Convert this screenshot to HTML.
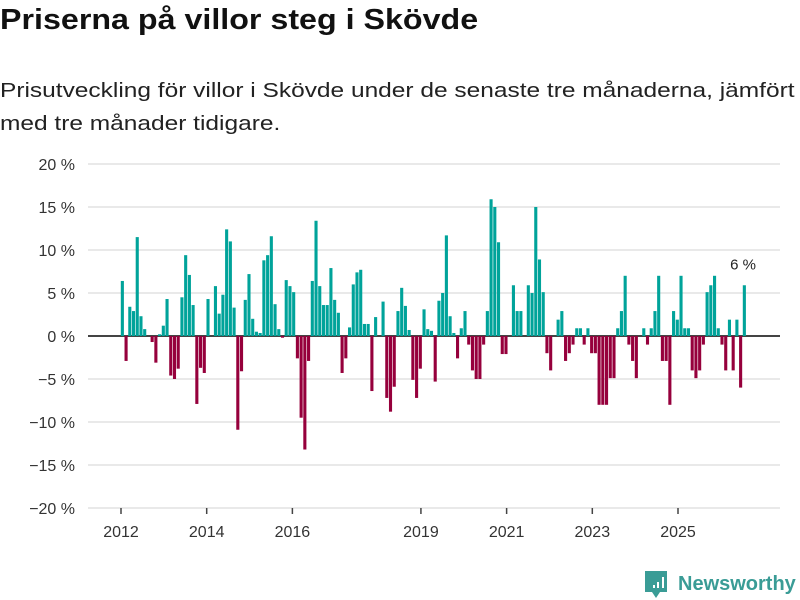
<!DOCTYPE html>
<html><head><meta charset="utf-8"><style>
body{margin:0;background:#fff;font-family:"Liberation Sans","DejaVu Sans",sans-serif;}
#wrap{position:relative;width:800px;height:600px;overflow:hidden;}
h1{position:absolute;left:0;top:4px;margin:0;font-size:29px;font-weight:bold;color:#111;transform:scaleX(1.111);transform-origin:0 0;white-space:nowrap;}
p{position:absolute;left:0;top:74px;margin:0;font-size:20.5px;line-height:33px;color:#222;width:668px;transform:scaleX(1.194);transform-origin:0 0;}
</style></head><body>
<div id="wrap">
<h1>Priserna på villor steg i Skövde</h1>
<p>Prisutveckling för villor i Skövde under de senaste tre månaderna, jämfört med tre månader tidigare.</p>
<svg id="chart" width="800" height="600" style="position:absolute;left:0;top:0"></svg>
</div>
<script>
const values = [6.4,-2.9,3.4,2.9,11.5,2.3,0.8,0,-0.7,-3.1,0.2,1.2,4.3,-4.6,-5.0,-3.8,4.5,9.4,7.1,3.6,-7.9,-3.7,-4.3,4.3,0,5.8,2.6,4.8,12.4,11.0,3.3,-10.9,-4.1,4.2,7.2,2.0,0.5,0.35,8.8,9.4,11.6,3.7,0.8,-0.2,6.5,5.8,5.1,-2.6,-9.5,-13.2,-2.9,6.4,13.4,5.8,3.6,3.6,7.9,
4.2,2.7,-4.3,-2.6,1.0,6.0,7.4,7.7,1.4,1.4,-6.4,2.2,0,4.0,-7.2,-8.8,-5.9,2.9,5.6,3.5,0.7,-5.1,-7.2,-3.8,3.1,0.8,0.6,-5.3,4.1,5.0,11.7,2.3,0.35,-2.6,0.9,2.9,-1.0,-4.0,-5.0,-5.0,-1.0,2.9,15.9,15.0,10.9,-2.1,-2.1,0,5.9,2.9,2.9,0,5.9,5.0,15.0,8.9,
5.1,-2.0,-4.0,0,1.9,2.9,-2.9,-2.0,-1.0,0.9,0.9,-1.0,0.9,-2.0,-2.0,-8.0,-8.0,-8.0,-4.9,-4.9,0.9,2.9,7.0,-1.0,-2.9,-4.9,0,0.9,-1.0,0.9,2.9,7.0,-2.9,-2.9,-8.0,2.9,1.9,7.0,0.9,0.9,-4.0,-4.9,-4.0,-1.0,5.1,5.9,7.0,0.9,-1.0,-4.0,1.9,-4.0,1.9,-6.0,5.9];
const yTicks = [20,15,10,5,0,-5,-10,-15,-20];
const xYears = ["2012","2014","2016","2019","2021","2023","2025"];
const xYearPos = [0,2,4,7,9,11,13];
const lastLabel = "6 %";

const svg = document.getElementById('chart');
const NS = "http://www.w3.org/2000/svg";
const y = v => 336 - v * 8.6;
const x = i => 121 + i * (743 - 121) / (values.length - 1);
const xYear = k => 121 + k * (678 - 121) / 13;
function mk(tag, attrs){const e=document.createElementNS(NS,tag);for(const k in attrs)e.setAttribute(k,attrs[k]);svg.appendChild(e);return e;}

yTicks.forEach(t=>{
  const g = mk('line',{x1:88,x2:780,y1:y(t),y2:y(t),stroke:t===0?'#444':'#e2e2e2','stroke-width':t===0?2:1.5});
  
  
  const l = mk('text',{x:75,y:y(t)+6,'text-anchor':'end','font-size':16,fill:'#333'});
  l.textContent = (t<0?'\u2212'+(-t):t)+' %';
  
  
});
xYears.forEach((s,k)=>{
  const px = xYear(xYearPos[k]);
  const tk = mk('line',{x1:px,x2:px,y1:508,y2:514,stroke:'#444','stroke-width':1.5});
  
  
  const l = mk('text',{x:px,y:537,'text-anchor':'middle','font-size':16,fill:'#333'});
  l.textContent = s;
  
  
});
values.forEach((v,i)=>{
  if(v===0) return;
  const r = mk('rect',{x:x(i)-0.2,width:3.1,y:Math.min(y(v),y(0)),height:Math.abs(y(v)-y(0)),fill:v>0?'#00a39a':'#96003c'});
  
  
});
const lv = values[values.length-1];
const lab = mk('text',{x:x(values.length-1),y:y(lv)-16,'text-anchor':'middle','font-size':15,fill:'#222'});
lab.textContent = lastLabel;


// logo
const ic = mk('path',{d:'M645 571 h22 v21 h-7 l-4 6 l-4 -6 h-7 z',fill:'#3a9c96'});


[[649,588,3],[653,585,6],[657,582,9],[662,577,14]].forEach(b=>{
  const r=mk('rect',{x:b[0],y:b[1]-0,width:2,height:b[2]-3,fill:'#fff'});
  
  
});
const lt = mk('text',{x:678,y:590,'font-size':20,fill:'#3a9c96','font-weight':'bold'});
lt.textContent = 'Newsworthy';


</script>
</body></html>
